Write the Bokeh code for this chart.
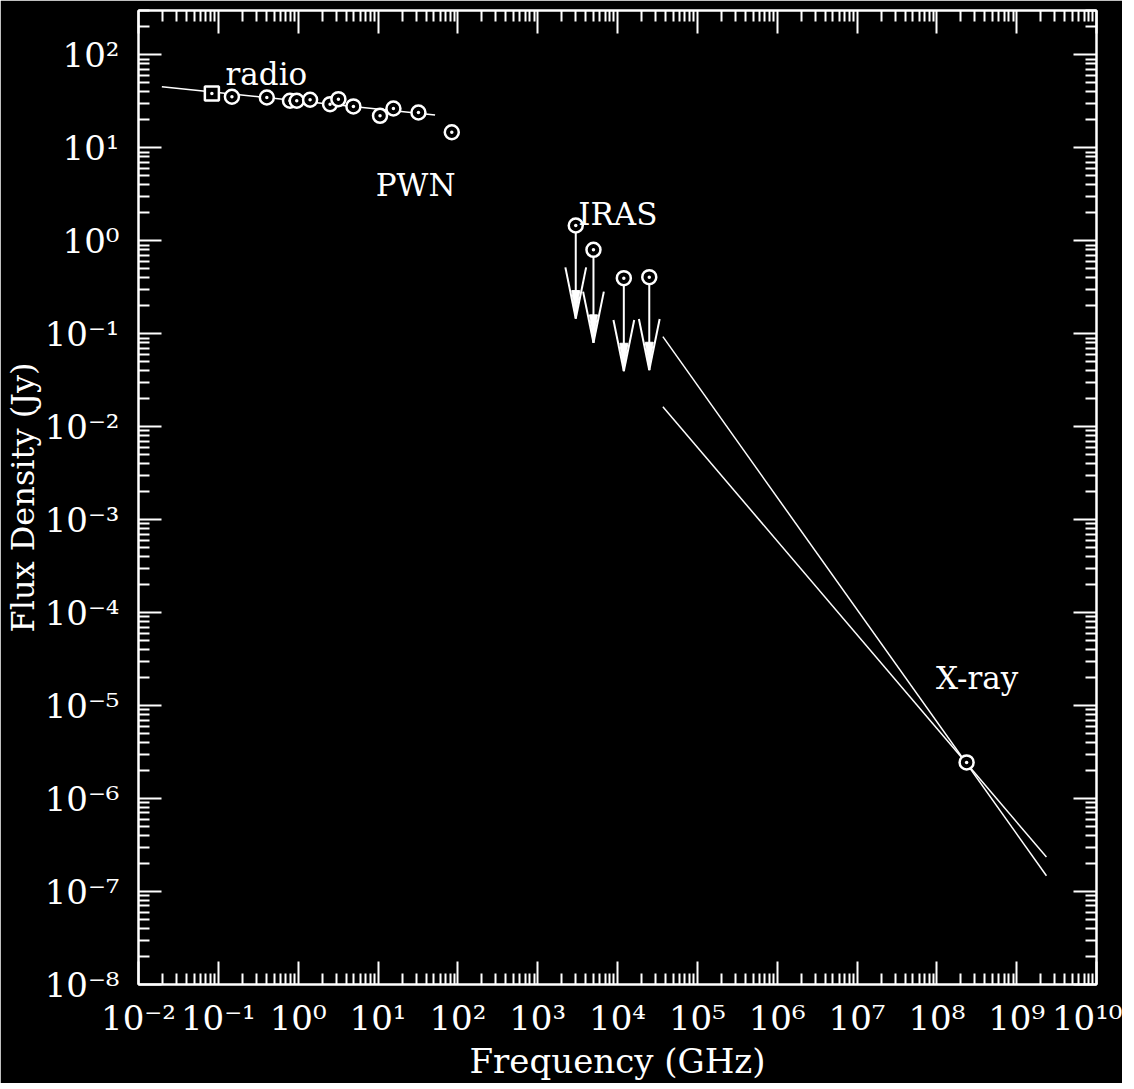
import numpy as np
from bokeh.plotting import figure
from bokeh.models import LogAxis, FixedTicker, Range1d, Label
from bokeh.embed import file_html
from bokeh.resources import INLINE

# ---------------- data ----------------
# radio points (GHz, Jy)
radio_sq_x = [0.083]
radio_sq_y = [38.5]
radio_x = [0.148, 0.405, 0.79, 0.96, 1.41, 2.51, 3.19, 4.92, 10.6, 15.6, 32.1]
radio_y = [35.4, 34.8, 32.1, 32.1, 32.9, 29.5, 33.4, 27.9, 22.1, 26.5, 24.0]
# power-law fit through the radio points
radio_fit_x = [0.0196, 51.9]
radio_fit_y = [45.3, 22.5]
# pulsar wind nebula point
pwn_x = [84.0]
pwn_y = [14.7]
# IRAS upper limits
iras_x = [3000.0, 5000.0, 12000.0, 25000.0]
iras_y = [1.46, 0.80, 0.396, 0.406]
# X-ray flux and spectral bow-tie
xray_x = [2.36e8]
xray_y = [2.45e-6]
xray_line_x = [3.7e4, 2.36e9]
xray_steep_y = [0.093, 1.48e-7]
xray_flat_y = [0.0164, 2.35e-7]

# axis ticks and labels
x_exponents = list(range(-2, 11))
x_tick_labels = ["10⁻²", "10⁻¹", "10⁰", "10¹", "10²", "10³", "10⁴", "10⁵",
                 "10⁶", "10⁷", "10⁸", "10⁹", "10¹⁰"]
y_exponents = list(range(-8, 3))
y_tick_labels = ["10⁻⁸", "10⁻⁷", "10⁻⁶", "10⁻⁵", "10⁻⁴", "10⁻³", "10⁻²",
                 "10⁻¹", "10⁰", "10¹", "10²"]

FONT = "DejaVu Serif"
WHITE = "white"

x_major = [10.0 ** k for k in x_exponents]
x_minor = [m * 10.0 ** k for k in range(-2, 10) for m in range(2, 10)]
y_major = [10.0 ** k for k in y_exponents]
y_minor = [m * 10.0 ** k for k in range(-8, 3) for m in range(2, 10) if m * 10.0 ** k <= 300]

p = figure(x_axis_type="log", y_axis_type="log",
           x_range=Range1d(1e-2, 1e10), y_range=Range1d(1e-8, 3e2),
           frame_width=958, frame_height=974,
           min_border_left=133, min_border_right=26,
           min_border_top=10, min_border_bottom=88,
           output_backend="svg", toolbar_location=None,
           background_fill_color="black", border_fill_color="black")
p.grid.visible = False
p.outline_line_color = WHITE
p.outline_line_width = 2

xt = FixedTicker(ticks=x_major, minor_ticks=x_minor)
yt = FixedTicker(ticks=y_major, minor_ticks=y_minor)

p.add_layout(LogAxis(), "above")
p.add_layout(LogAxis(), "right")

for ax in p.xaxis:
    ax.ticker = xt
for ax in p.yaxis:
    ax.ticker = yt

for ax in p.axis:
    ax.axis_line_color = WHITE
    ax.axis_line_width = 2
    ax.major_tick_line_color = WHITE
    ax.major_tick_line_width = 2
    ax.minor_tick_line_color = WHITE
    ax.minor_tick_line_width = 2
    ax.major_tick_in = 23
    ax.major_tick_out = 0
    ax.minor_tick_in = 11
    ax.minor_tick_out = 0
    ax.major_label_text_color = WHITE
    ax.major_label_text_font = FONT
    ax.major_label_text_font_size = "34px"
    ax.axis_label_text_color = WHITE
    ax.axis_label_text_font = FONT
    ax.axis_label_text_font_style = "normal"
    ax.axis_label_text_font_size = "34px"

# hide labels on the top / right axes
for ax in [p.above[0], p.right[0]]:
    ax.major_label_text_font_size = "0px"
    ax.major_label_text_alpha = 0
    ax.major_label_standoff = 0
    ax.axis_label_standoff = 0

bx = p.below[0]
ly = p.left[0]
bx.major_label_overrides = {v: s for v, s in zip(x_major, x_tick_labels)}
ly.major_label_overrides = {v: s for v, s in zip(y_major, y_tick_labels)}
bx.major_label_standoff = 13
ly.major_label_standoff = 19
bx.axis_label = "Frequency (GHz)"
ly.axis_label = "Flux Density (Jy)"
ly.axis_label_text_font_size = "32px"
bx.axis_label_standoff = 0
ly.axis_label_standoff = 0

# ---------------- glyphs ----------------
p.line(radio_fit_x, radio_fit_y, line_color=WHITE, line_width=1.5)
p.line(xray_line_x, xray_steep_y, line_color=WHITE, line_width=1.5)
p.line(xray_line_x, xray_flat_y, line_color=WHITE, line_width=1.5)

ix = np.array(iras_x)
iy = np.array(iras_y)
tip = iy / 10.0
p.segment(x0=ix, y0=iy, x1=ix, y1=tip, line_color=WHITE, line_width=2)
wing_y = tip * 10 ** 0.55
p.segment(x0=ix / 10 ** 0.13, y0=wing_y, x1=ix, y1=tip, line_color=WHITE, line_width=2)
p.segment(x0=ix * 10 ** 0.13, y0=wing_y, x1=ix, y1=tip, line_color=WHITE, line_width=2)
p.patches(xs=[[x / 10 ** 0.05, x, x * 10 ** 0.05] for x in ix],
          ys=[[t * 10 ** 0.3, t, t * 10 ** 0.3] for t in tip],
          fill_color=WHITE, line_color=WHITE, line_width=1)

mk = dict(size=14, line_color=WHITE, fill_color="black", line_width=2.5)
p.scatter(radio_sq_x, radio_sq_y, marker="square_dot", **mk)
p.scatter(radio_x, radio_y, marker="circle_dot", **mk)
p.scatter(pwn_x, pwn_y, marker="circle_dot", **mk)
p.scatter(iras_x, iras_y, marker="circle_dot", **mk)
p.scatter(xray_x, xray_y, marker="circle_dot", **mk)

lab = dict(text_color=WHITE, text_font=FONT, text_font_size="31px",
           text_align="center", text_baseline="alphabetic")
p.add_layout(Label(x=0.40, y=62.0, text="radio", **lab))
p.add_layout(Label(x=29.6, y=3.98, text="PWN", **lab))
p.add_layout(Label(x=1.01e4, y=1.95, text="IRAS", **lab))
p.add_layout(Label(x=3.2e8, y=1.97e-5, text="X-ray", **lab))

open("out.html", "w").write(file_html(p, INLINE))
